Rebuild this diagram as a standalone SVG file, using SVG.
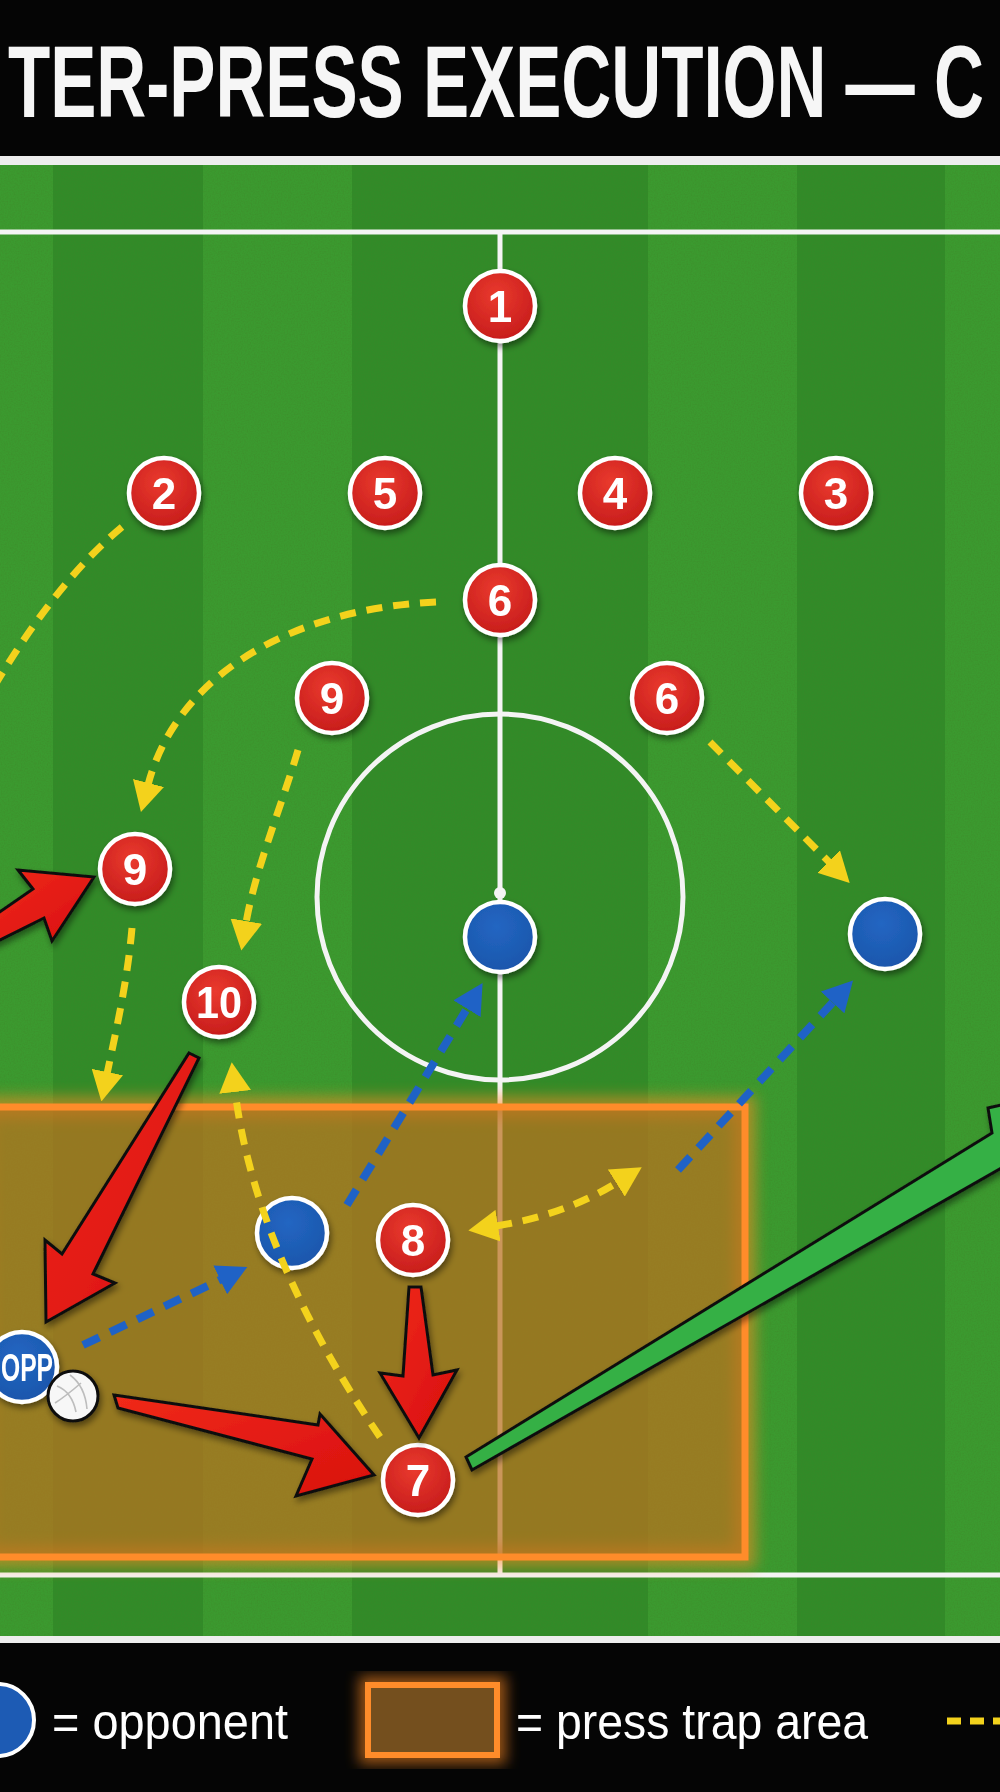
<svg xmlns="http://www.w3.org/2000/svg" width="1000" height="1792" viewBox="0 0 1000 1792">
<defs>
<style>
.lt{fill:#3b9a2f}.dk{fill:#318b28}
.wl{stroke:#f4f4f4;stroke-width:5;fill:none}
.red circle{fill:url(#rg);stroke:#fff;stroke-width:4.5}
.blue circle{fill:url(#bg);stroke:#fff;stroke-width:4.5}
.num{font-family:"Liberation Sans",Arial,sans-serif;font-weight:bold;font-size:44px;fill:#fff;text-anchor:middle}
.yd{fill:none;stroke:#f3d21c;stroke-width:7;stroke-dasharray:16 11}
.bd{fill:none;stroke:#1f62c6;stroke-width:8;stroke-dasharray:18 12}
.ra{fill:url(#redfill);stroke:#111;stroke-width:3;stroke-linejoin:miter}
.leg{font-family:"Liberation Sans",Arial,sans-serif;font-size:50px;fill:#fff}
</style>
<radialGradient id="rg" cx="45%" cy="35%" r="70%"><stop offset="0" stop-color="#ea3a2e"/><stop offset="1" stop-color="#c41a1a"/></radialGradient>
<radialGradient id="bg" cx="45%" cy="35%" r="70%"><stop offset="0" stop-color="#2366c2"/><stop offset="1" stop-color="#1a55aa"/></radialGradient>
<linearGradient id="redfill" x1="0" y1="0" x2="1" y2="1"><stop offset="0" stop-color="#f02a1a"/><stop offset="1" stop-color="#d80e0e"/></linearGradient>
<filter id="sh" x="-30%" y="-30%" width="160%" height="160%"><feDropShadow dx="2" dy="4" stdDeviation="3" flood-color="#000" flood-opacity="0.45"/></filter>
<filter id="glow" x="-20%" y="-20%" width="140%" height="140%"><feGaussianBlur stdDeviation="7"/></filter>
<filter id="noise" x="0" y="0" width="100%" height="100%"><feTurbulence type="fractalNoise" baseFrequency="0.7" numOctaves="2" seed="4"/><feColorMatrix type="matrix" values="0 0 0 0 0.05  0 0 0 0 0.22  0 0 0 0 0.02  0.7 0 0 0 -0.25"/></filter>
<marker id="ya" viewBox="0 0 30 32" refX="2" refY="16" markerWidth="30" markerHeight="32" markerUnits="userSpaceOnUse" orient="auto-start-reverse"><path d="M0,0 L30,16 L0,32 z" fill="#f3d21c"/></marker>
<marker id="ba" viewBox="0 0 30 32" refX="2" refY="16" markerWidth="30" markerHeight="32" markerUnits="userSpaceOnUse" orient="auto"><path d="M0,0 L30,16 L0,32 z" fill="#1f62c6"/></marker>
</defs>

<!-- header -->
<rect x="0" y="0" width="1000" height="156" fill="#050505"/>
<text transform="translate(8,117) scale(0.678,1)" x="0" y="0" font-family="'Liberation Sans',Arial,sans-serif" font-weight="bold" font-size="102" fill="#f6f6f6">TER-PRESS EXECUTION — C</text>
<rect x="0" y="156" width="1000" height="9" fill="#eeeeee"/>

<!-- pitch -->
<g id="pitch">
<rect x="0" y="165" width="1000" height="1471" class="lt"/>
<rect x="53" y="165" width="150" height="1471" class="dk"/>
<rect x="352" y="165" width="296" height="1471" class="dk"/>
<rect x="797" y="165" width="148" height="1471" class="dk"/>
<rect x="0" y="165" width="1000" height="1471" filter="url(#noise)"/>
<line x1="0" y1="232" x2="1000" y2="232" class="wl"/>
<line x1="0" y1="1575" x2="1000" y2="1575" class="wl" stroke-width="6"/>
<line x1="500" y1="232" x2="500" y2="1575" class="wl"/>
<circle cx="500" cy="897" r="183" class="wl"/>
<circle cx="500" cy="893" r="6" fill="#f4f4f4"/>
</g>

<!-- press trap area -->
<g id="trap">
<rect x="-20" y="1107" width="765" height="450" fill="none" stroke="#ff8a22" stroke-width="22" opacity="0.55" filter="url(#glow)"/>
<rect x="-20" y="1107" width="765" height="450" fill="#bb721e" fill-opacity="0.72"/>
<rect x="-20" y="1107" width="765" height="450" fill="none" stroke="#ff8c2a" stroke-width="7"/>
</g>

<rect x="0" y="1636" width="1000" height="7" fill="#eeeeee"/>
<rect x="0" y="1643" width="1000" height="149" fill="#050505"/>

<!-- nodes -->
<g filter="url(#sh)">
<g id="n1" class="red"><circle cx="500" cy="306" r="35"/><text x="500" y="322" class="num">1</text></g>
<g id="n2" class="red"><circle cx="164" cy="493" r="35"/><text x="164" y="509" class="num">2</text></g>
<g id="n5" class="red"><circle cx="385" cy="493" r="35"/><text x="385" y="509" class="num">5</text></g>
<g id="n4" class="red"><circle cx="615" cy="493" r="35"/><text x="615" y="509" class="num">4</text></g>
<g id="n3" class="red"><circle cx="836" cy="493" r="35"/><text x="836" y="509" class="num">3</text></g>
<g id="n6a" class="red"><circle cx="500" cy="600" r="35"/><text x="500" y="616" class="num">6</text></g>
<g id="n9a" class="red"><circle cx="332" cy="698" r="35"/><text x="332" y="714" class="num">9</text></g>
<g id="n6b" class="red"><circle cx="667" cy="698" r="35"/><text x="667" y="714" class="num">6</text></g>
<g id="n9b" class="red"><circle cx="135" cy="869" r="35"/><text x="135" y="885" class="num">9</text></g>
<g id="n10" class="red"><circle cx="219" cy="1002" r="35"/><text x="219" y="1018" class="num" textLength="46" lengthAdjust="spacingAndGlyphs">10</text></g>
<g id="n8" class="red"><circle cx="413" cy="1240" r="35"/><text x="413" y="1256" class="num">8</text></g>
<g id="n7" class="red"><circle cx="418" cy="1480" r="35"/><text x="418" y="1496" class="num">7</text></g>
<g id="o1" class="blue"><circle cx="500" cy="937" r="35"/></g>
<g id="o2" class="blue"><circle cx="885" cy="934" r="35"/></g>
<g id="o3" class="blue"><circle cx="292" cy="1233" r="35"/></g>
<g id="opp" class="blue"><circle cx="22" cy="1367" r="35"/><text x="1" y="1381" font-family="'Liberation Sans',Arial,sans-serif" font-weight="bold" font-size="38" fill="#fff" textLength="52" lengthAdjust="spacingAndGlyphs">OPP</text></g>
<g id="ball"><circle cx="73" cy="1396" r="25" fill="#f7f7f7" stroke="#111" stroke-width="3"/>
<path d="M57,1386 Q72,1392 76,1412 M70,1375 Q85,1386 87,1409 M55,1403 Q66,1396 81,1383" fill="none" stroke="#bdbdbd" stroke-width="1.6"/></g>
</g>

<!-- connectors -->
<g id="connectors">
<path class="yd" d="M122,527 Q58,580 -5,685"/>
<path class="yd" d="M436,602 C300,608 178,670 148,785" marker-end="url(#ya)"/>
<path class="yd" d="M298,750 C282,805 255,870 246,923" marker-end="url(#ya)"/>
<path class="yd" d="M132,928 C127,985 115,1035 107,1074" marker-end="url(#ya)"/>
<path class="yd" d="M380,1437 C300,1320 248,1200 235,1090" marker-end="url(#ya)"/>
<path class="yd" d="M496,1226 Q565,1215 618,1182" marker-start="url(#ya)" marker-end="url(#ya)"/>
<path class="yd" d="M710,742 L830,863" marker-end="url(#ya)"/>
<path class="bd" d="M83,1345 L222,1279" marker-end="url(#ba)"/>
<path class="bd" d="M347,1205 L468,1007" marker-end="url(#ba)"/>
<path class="bd" d="M678,1170 L834,1001" marker-end="url(#ba)"/>
<g filter="url(#sh)">
<polygon class="ra" points="-12,920 33,889 18,870 94,877 52,941 44,918 -12,946"/>
<polygon class="ra" points="189,1053 199,1058 93,1274 115,1283 46,1322 45,1240 62,1254"/>
<polygon class="ra" points="114,1395 318,1425 320,1414 374,1475 296,1496 312,1459 118,1408"/>
<polygon class="ra" points="409,1287 421,1287 433,1375 457,1370 419,1438 380,1373 403,1376"/>
<polygon points="466,1457 992,1133 988,1108 1090,1085 1030,1200 1012,1162 472,1470" fill="#34b045" stroke="#111" stroke-width="3"/>
</g>
</g>

<!-- legend -->
<g id="legend">
<circle cx="-2" cy="1720" r="36" fill="#1d5bb4" stroke="#fff" stroke-width="4"/>
<text x="52" y="1739" class="leg" textLength="236" lengthAdjust="spacingAndGlyphs">= opponent</text>
<rect x="368" y="1685" width="129" height="70" fill="none" stroke="#ff8a22" stroke-width="18" opacity="0.6" filter="url(#glow)"/>
<rect x="368" y="1685" width="129" height="70" fill="#744f1e" stroke="#ff8c2a" stroke-width="6"/>
<text x="516" y="1739" class="leg" textLength="352" lengthAdjust="spacingAndGlyphs">= press trap area</text>
<line x1="947" y1="1721" x2="1000" y2="1721" stroke="#f3d21c" stroke-width="7" stroke-dasharray="14 9"/>
</g>
</svg>
